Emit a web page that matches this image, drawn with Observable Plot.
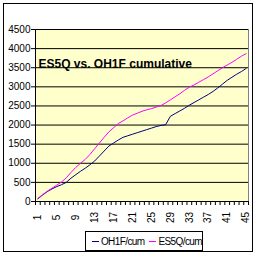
<!DOCTYPE html>
<html>
<head>
<meta charset="utf-8">
<script src="https://cdn.jsdelivr.net/npm/d3@7"></script>
<script src="https://cdn.jsdelivr.net/npm/@observablehq/plot@0.6"></script>
<style>
  html, body { margin: 0; padding: 0; background: #fff; }
  #wrap { position: relative; width: 256px; height: 256px; overflow: hidden; font-family: "Liberation Sans", Arial, sans-serif; }
  #border { position: absolute; left: 3px; top: 3px; width: 250px; height: 249px; border: 1px solid #000; box-sizing: border-box; pointer-events: none; }
  #legend { position: absolute; left: 85px; top: 231px; width: 118px; height: 20px; box-sizing: border-box; border: 1px solid #000; background: #fff; display: flex; align-items: center; font-size: 10px; letter-spacing: -0.6px; color: #000; }
  .sw { display: inline-block; width: 7px; height: 0; border-top: 1px solid; margin-left: 6px; margin-right: 2px; }
</style>
</head>
<body>
<div id="wrap">
  <div id="chart"></div>
  <div id="border"></div>
  <div id="legend">
    <span class="sw" style="border-color:#000080"></span><span>OH1F/cum</span>
    <span class="sw" style="border-color:#FF00FF;margin-left:5px"></span><span>ES5Q/cum</span>
  </div>
</div>
<script>
const title = "ES5Q vs. OH1F cumulative";
const seriesNames = ["OH1F/cum", "ES5Q/cum"];
const seriesColors = ["#000080", "#FF00FF"];
const categories = [1,2,3,4,5,6,7,8,9,10,11,12,13,14,15,16,17,18,19,20,21,22,23,24,25,26,27,28,29,30,31,32,33,34,35,36,37,38,39,40,41,42,43,44,45];
const oh1f = [70,170,260,330,390,440,500,610,700,790,870,960,1060,1190,1320,1450,1530,1610,1680,1720,1760,1800,1840,1880,1920,1960,1990,2010,2230,2300,2370,2440,2520,2590,2660,2730,2800,2880,2970,3070,3170,3250,3330,3400,3480];
const es5q = [80,180,270,350,430,510,620,760,890,1000,1100,1230,1380,1530,1680,1820,1930,2040,2110,2190,2260,2310,2360,2400,2430,2470,2510,2580,2660,2740,2820,2910,2990,3050,3120,3190,3260,3340,3420,3500,3570,3640,3720,3800,3870];
const xTickLabels = [1,5,9,13,17,21,25,29,33,37,41,45];
const yTicks = [0,500,1000,1500,2000,2500,3000,3500,4000,4500];

const rows = [];
categories.forEach((c, i) => {
  rows.push({cat: c, value: oh1f[i], series: seriesNames[0]});
  rows.push({cat: c, value: es5q[i], series: seriesNames[1]});
});
const boundaries = categories.map(c => c - 0.5).concat([categories[categories.length - 1] + 0.5]);

const chart = Plot.plot({
  width: 256,
  height: 256,
  marginLeft: 35,
  marginRight: 8,
  marginTop: 29,
  marginBottom: 55,
  style: {fontFamily: "'Liberation Sans', Arial, sans-serif", fontSize: "10px", background: "transparent", color: "#000"},
  x: {domain: [boundaries[0], boundaries[boundaries.length - 1]]},
  y: {domain: [0, 4500]},
  color: {domain: seriesNames, range: seriesColors},
  marks: [
    Plot.frame({fill: "#FFFFCC", stroke: "#808080"}),
    Plot.gridY(yTicks, {stroke: "#000", strokeOpacity: 1}),
    Plot.ruleY([0], {stroke: "#000"}),
    Plot.ruleX([boundaries[0]], {stroke: "#000"}),
    Plot.axisY(yTicks, {tickSize: 4, tickPadding: 1, label: null, fontSize: 10, stroke: "#000", tickFormat: d => String(d)}),
    Plot.axisX(boundaries, {tickSize: 4, tickFormat: () => "", label: null, stroke: "#000"}),
    Plot.axisX(xTickLabels, {tickSize: 0, tickRotate: -90, tickPadding: 16, textAnchor: "middle", label: null, fontSize: 10, tickFormat: d => String(d)}),
    Plot.lineY(rows, {x: "cat", y: "value", stroke: "series", z: "series", strokeWidth: 1}),
    Plot.text([title], {frameAnchor: "top-left", dx: 3, dy: 30, text: d => d, textAnchor: "start", fontSize: 12, fontWeight: "bold", fill: "#000", letterSpacing: "-0.4px"})
  ]
});
document.getElementById("chart").appendChild(chart);
</script>
</body>
</html>
